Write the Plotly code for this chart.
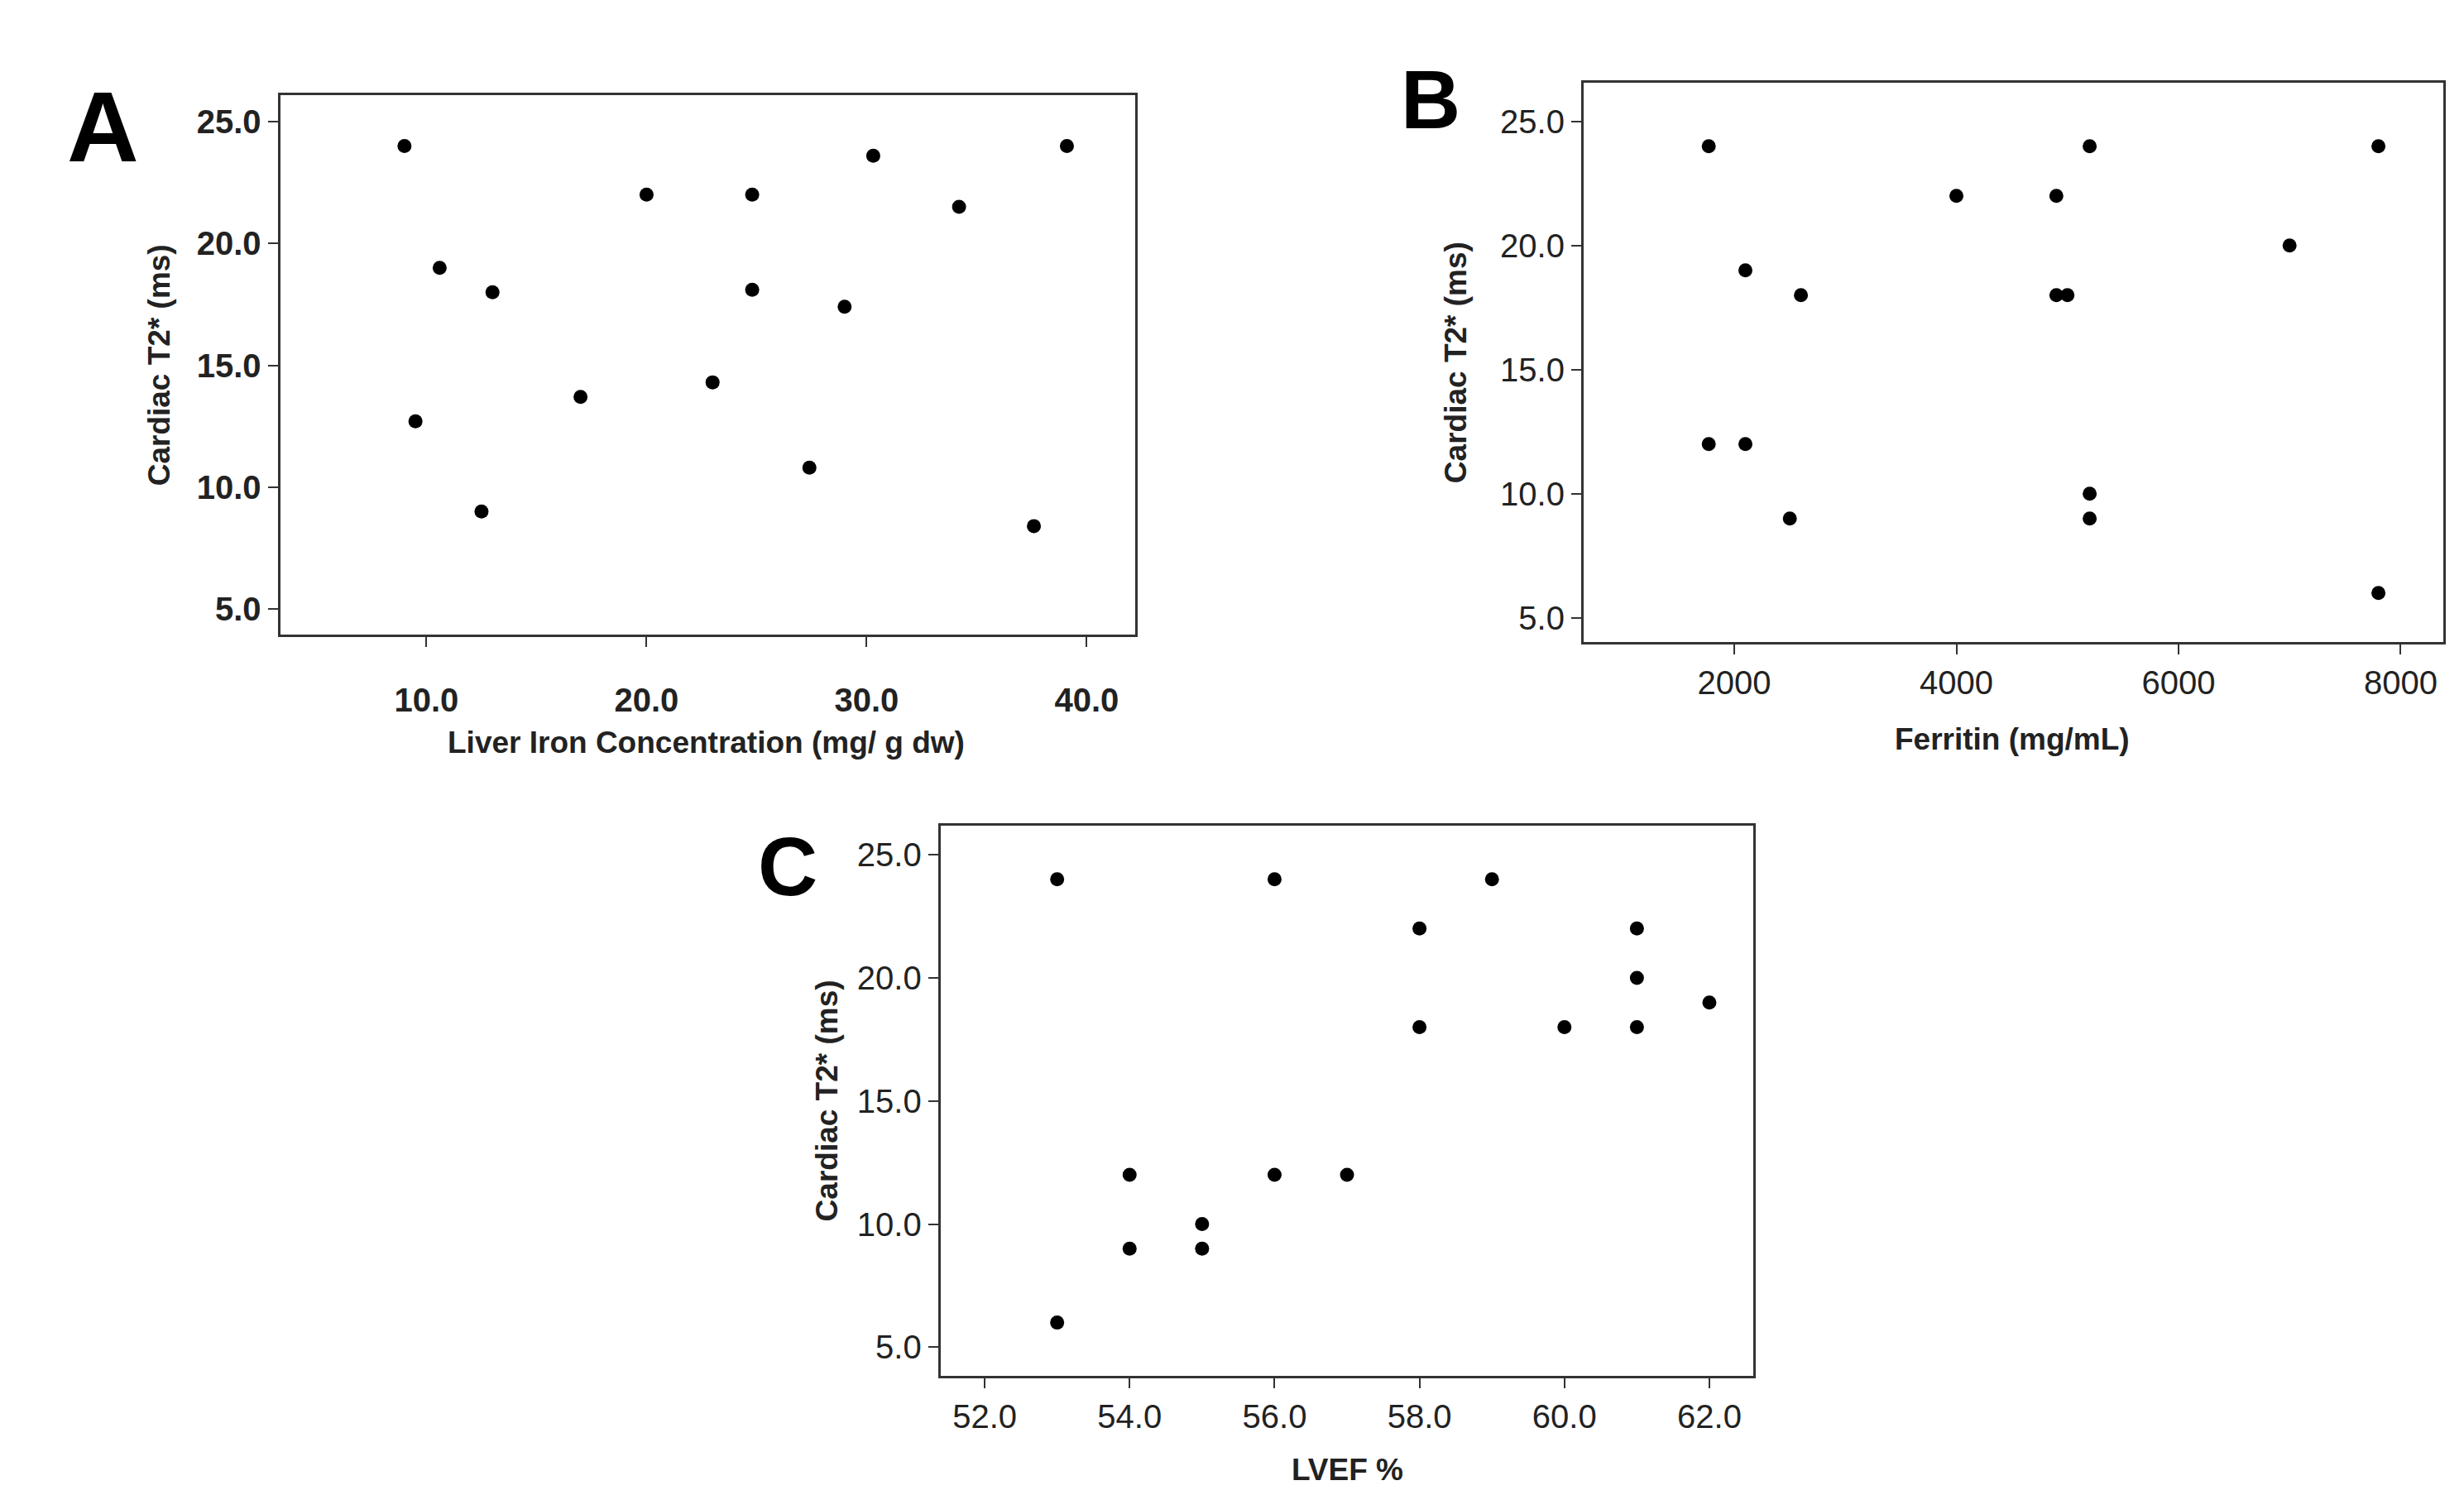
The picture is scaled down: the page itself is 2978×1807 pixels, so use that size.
import plotly.graph_objects as go

a_x = [9, 10.6, 13, 9.5, 12.5, 17, 20, 23, 24.8, 24.8, 27.4, 29, 30.3, 34.2, 37.6, 39.1]
a_y = [24, 19, 18, 12.7, 9, 13.7, 22, 14.3, 22, 18.1, 10.8, 17.4, 23.6, 21.5, 8.4, 24]
b_x = [1770, 2100, 2600, 1770, 2100, 2500, 4000, 4900, 4900, 5000, 5200, 5200, 5200, 7000, 7800, 7800]
b_y = [24, 19, 18, 12, 12, 9, 22, 22, 18, 18, 24, 10, 9, 20, 24, 6]
c_x = [53, 53, 54, 54, 55, 55, 56, 56, 57, 58, 58, 59, 60, 61, 61, 61, 62]
c_y = [24, 6, 12, 9, 10, 9, 24, 12, 12, 22, 18, 24, 18, 22, 20, 18, 19]

y_ticks = [5, 10, 15, 20, 25]

fig = go.Figure()
mk = dict(color="black", size=17)
fig.add_trace(go.Scatter(x=a_x, y=a_y, mode="markers", marker=mk, xaxis="x", yaxis="y"))
fig.add_trace(go.Scatter(x=b_x, y=b_y, mode="markers", marker=mk, xaxis="x2", yaxis="y2"))
fig.add_trace(go.Scatter(x=c_x, y=c_y, mode="markers", marker=mk, xaxis="x3", yaxis="y3"))

base = dict(showgrid=False, zeroline=False, showline=True, mirror=True, linecolor="#333",
            linewidth=3, ticks="outside", ticklen=12, tickwidth=2, tickcolor="#333")
fa = dict(family="Liberation Sans", size=40, color="#222")

fig.update_layout(
    width=2978, height=1807, showlegend=False,
    paper_bgcolor="white", plot_bgcolor="white",
    margin=dict(l=0, r=0, t=0, b=0),
    xaxis=dict(base, domain=[0.111, 0.458], range=[3.35, 42.2], tickvals=[10, 20, 30, 40],
               ticktext=["<b>10.0</b>", "<b>20.0</b>", "<b>30.0</b>", "<b>40.0</b>"],
               tickfont=fa, anchor="y", ticklabelstandoff=30),
    yaxis=dict(base, domain=[0.580, 0.941], range=[3.95, 26.1], tickvals=y_ticks,
               ticktext=["<b>%.1f</b>" % v for v in y_ticks], tickfont=fa, anchor="x"),
    xaxis2=dict(base, domain=[0.640, 0.989], range=[643, 8386], tickvals=[2000, 4000, 6000, 8000],
                tickfont=fa, anchor="y2"),
    yaxis2=dict(base, domain=[0.575, 0.949], range=[4.03, 26.55], tickvals=y_ticks,
                ticktext=["%.1f" % v for v in y_ticks], tickfont=fa, anchor="x2"),
    xaxis3=dict(base, domain=[0.379, 0.709], range=[51.39, 62.61], tickvals=[52, 54, 56, 58, 60, 62],
                ticktext=["%.1f" % v for v in [52, 54, 56, 58, 60, 62]], tickfont=fa, anchor="y3"),
    yaxis3=dict(base, domain=[0.084, 0.452], range=[3.83, 26.17], tickvals=y_ticks,
                ticktext=["%.1f" % v for v in y_ticks], tickfont=fa, anchor="x3"),
)

tf = dict(family="Liberation Sans", size=37, color="#222")
ann = [
    ("<b>A</b>", 0.039, 0.92, 0, dict(family="Liberation Sans", size=120, color="black")),
    ("<b>B</b>", 0.578, 0.938, 0, dict(family="Liberation Sans", size=100, color="black")),
    ("<b>C</b>", 0.317, 0.425, 0, dict(family="Liberation Sans", size=100, color="black")),
    ("<b>Liver Iron Concentration (mg/ g dw)</b>", 0.284, 1 - 460 / 935, 0, tf),
    ("<b>Ferritin (mg/mL)</b>", 0.814, 1 - 458 / 935, 0, tf),
    ("<b>LVEF %</b>", 0.544, 1 - 915 / 935, 0, tf),
    ("<b>Cardiac T2* (ms)</b>", 0.062, 0.76, -90, tf),
    ("<b>Cardiac T2* (ms)</b>", 0.588, 0.762, -90, tf),
    ("<b>Cardiac T2* (ms)</b>", 0.333, 0.268, -90, tf),
]
for t, x, y, ang, f in ann:
    fig.add_annotation(text=t, x=x, y=y, xref="paper", yref="paper", showarrow=False,
                       textangle=ang, font=f, xanchor="center", yanchor="middle")

fig.write_html("out.html")
